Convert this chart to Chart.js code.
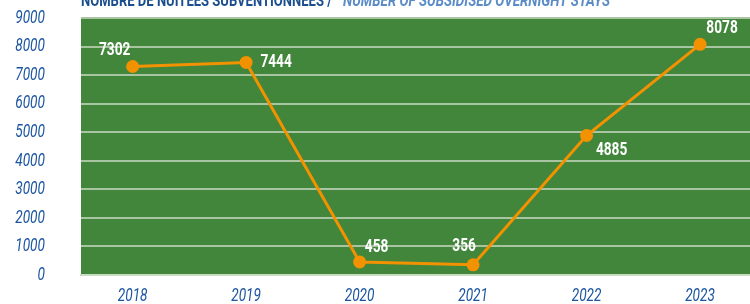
<!DOCTYPE html>
<html><head><meta charset="utf-8">
<script src="https://cdn.jsdelivr.net/npm/chart.js@4/dist/chart.umd.min.js"></script>
<style>html,body{margin:0;padding:0;background:#fff;overflow:hidden}#wrap{width:750px;height:304px;position:relative}</style>
</head><body><div id="wrap"><canvas id="c" width="750" height="304"></canvas></div>
<script>
const years = [2018, 2019, 2020, 2021, 2022, 2023];
const nights = [7302, 7444, 458, 356, 4885, 8078];
const yTicks = [0, 1000, 2000, 3000, 4000, 5000, 6000, 7000, 8000, 9000];
const titleFr = 'NOMBRE DE NUITÉES SUBVENTIONNÉES /';
const titleEn = 'NUMBER OF SUBSIDISED OVERNIGHT STAYS';
const labelOffsets = [[-18,-16],[30,0],[17,-14],[-9,-18],[25,15],[22,-16]];

const FONT = 'Roboto, "DejaVu Sans", sans-serif';

function drawSquashed(ctx, text, x, y, sx, align) {
  ctx.save();
  ctx.translate(x, y);
  ctx.scale(sx, 1);
  ctx.textAlign = align;
  ctx.fillText(text, 0, 0);
  ctx.restore();
}

const bgPlugin = {
  id: 'bg',
  beforeDraw(chart) {
    const {ctx, chartArea: a} = chart;
    ctx.save();
    ctx.fillStyle = '#41863a';
    ctx.fillRect(a.left, a.top, a.right - a.left, a.bottom - a.top);
    ctx.restore();
  }
};
const textPlugin = {
  id: 'txt',
  afterDraw(chart) {
    const ctx = chart.ctx;
    ctx.save();
    ctx.textBaseline = 'alphabetic';
    ctx.font = 'bold 17px ' + FONT;
    ctx.fillStyle = '#1b4e8e';
    let w = ctx.measureText(titleFr).width;
    drawSquashed(ctx, titleFr, 81, 6, 251 / w, 'left');
    ctx.font = 'italic bold 17px ' + FONT;
    ctx.fillStyle = '#5b8cc8';
    w = ctx.measureText(titleEn).width;
    drawSquashed(ctx, titleEn, 343, 6, 267 / w, 'left');
    ctx.font = 'italic 19px ' + FONT;
    ctx.fillStyle = '#1d56a0';
    ctx.textBaseline = 'middle';
    const ys = chart.scales.y;
    yTicks.forEach(v => drawSquashed(ctx, String(v), 45, ys.getPixelForValue(v), 0.72, 'right'));
    const xs = chart.scales.x;
    years.forEach(v => drawSquashed(ctx, String(v), xs.getPixelForValue(v), 296, 0.72, 'center'));
    ctx.restore();
  },
  afterDatasetsDraw(chart) {
    const ctx = chart.ctx;
    const meta = chart.getDatasetMeta(0);
    ctx.save();
    ctx.font = 'bold 18px ' + FONT;
    ctx.fillStyle = '#ffffff';
    ctx.textBaseline = 'middle';
    meta.data.forEach((pt, i) => {
      const o = labelOffsets[i];
      drawSquashed(ctx, String(nights[i]), pt.x + o[0], pt.y + o[1], 0.76, 'center');
    });
    ctx.restore();
  }
};

new Chart(document.getElementById('c'), {
  type: 'line',
  data: {
    datasets: [{
      data: years.map((y, i) => ({x: y, y: nights[i]})),
      borderColor: '#f39200',
      backgroundColor: '#f39200',
      borderWidth: 3,
      pointRadius: 6.5,
      pointHoverRadius: 6.5,
      pointBackgroundColor: '#f39200',
      pointBorderWidth: 0,
      tension: 0,
      clip: false
    }]
  },
  options: {
    responsive: false,
    animation: false,
    layout: {autoPadding: false, padding: {top: 18, left: 0, right: 0, bottom: 0}},
    plugins: {legend: {display: false}, tooltip: {enabled: false}, title: {display: false}},
    scales: {
      x: {
        type: 'linear',
        min: 2017.545,
        max: 2023.44,
        afterBuildTicks: s => { s.ticks = years.map(v => ({value: v})); },
        afterFit: s => { s.height = 29; },
        grid: {display: false, drawTicks: false},
        border: {display: true, color: '#c8dcc4', width: 2},
        ticks: {display: false}
      },
      y: {
        min: 0,
        max: 9000,
        afterBuildTicks: s => { s.ticks = yTicks.map(v => ({value: v})); },
        afterFit: s => { s.width = 81; },
        grid: {color: '#a9c4a0', lineWidth: 2, drawTicks: false},
        border: {display: false},
        ticks: {display: false}
      }
    }
  },
  plugins: [bgPlugin, textPlugin]
});
</script></body></html>
